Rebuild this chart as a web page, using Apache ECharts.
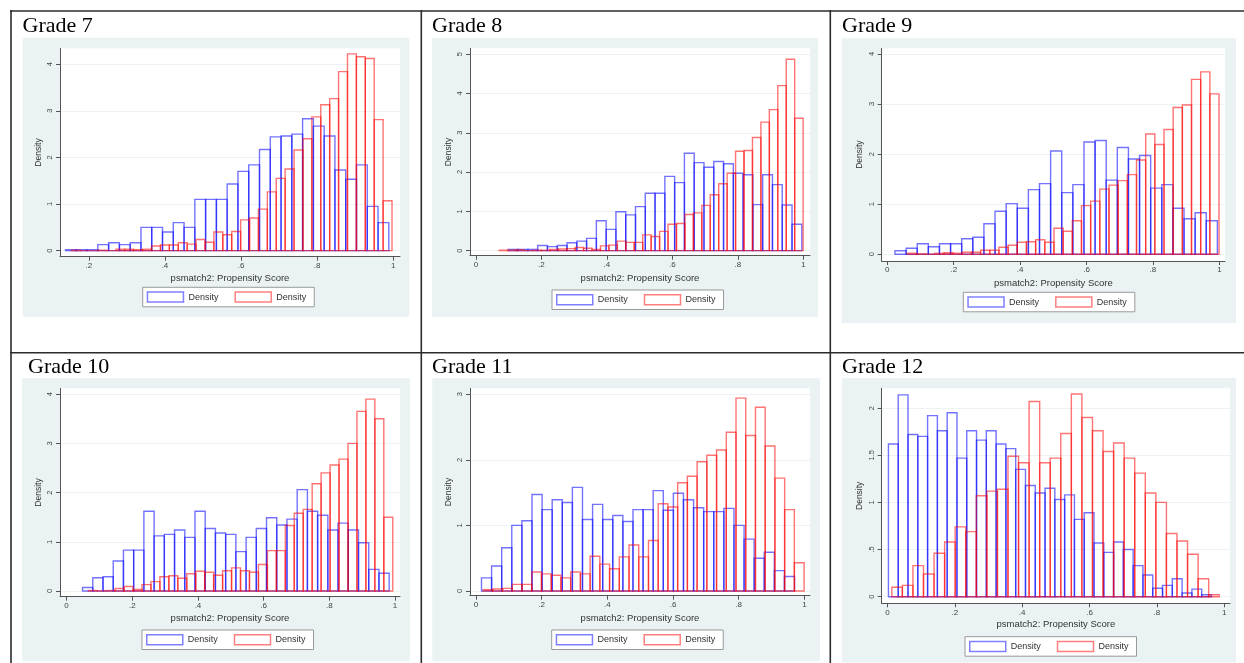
<!DOCTYPE html>
<html>
<head>
<meta charset="utf-8">
<script src="https://cdn.jsdelivr.net/npm/echarts@6/dist/echarts.min.js"></script>
<style>
html,body{margin:0;padding:0;background:#fff;}
#chart{width:1244px;height:663px;}
</style>
</head>
<body>
<div id="chart"></div>
<script>
// ---------------- DATA ----------------
const gradeTitles = ['Grade 7', 'Grade 8', 'Grade 9', 'Grade 10', 'Grade 11', 'Grade 12'];
const xAxisTitle = 'psmatch2: Propensity Score';
const yAxisTitle = 'Density';
const legendLabel = 'Density';
const xTickValues = [0, 0.2, 0.4, 0.6, 0.8, 1];

// Grade 7
const g7BlueRange = [0.1385, 0.9886];
const g7Blue = [0.02,0.02,0.02,0.13,0.17,0.13,0.17,0.50,0.50,0.40,0.60,0.50,1.10,1.10,1.10,1.43,1.70,1.84,2.17,2.44,2.46,2.50,2.83,2.67,2.46,1.73,1.53,1.84,0.95,0.60];
const g7RedRange = [0.154, 0.997];
const g7Red = [0.01,0,0,0.01,0,0.03,0.03,0.02,0.03,0.10,0.12,0.12,0.17,0.14,0.24,0.18,0.40,0.34,0.41,0.66,0.70,0.89,1.26,1.55,1.75,2.16,2.40,2.87,3.13,3.26,3.84,4.22,4.16,4.12,2.81,1.07];
const g7YTicks = [0, 1, 2, 3, 4];

// Grade 8
const g8BlueRange = [0.099, 0.995];
const g8Blue = [0.03,0.03,0.03,0.13,0.10,0.13,0.20,0.24,0.31,0.76,0.54,0.99,0.91,1.12,1.46,1.46,1.89,1.73,2.48,2.24,2.12,2.27,2.21,1.97,1.93,1.17,1.93,1.68,1.16,0.67];
const g8RedRange = [0.071, 0.999];
const g8Red = [0.01,0.01,0.02,0.00,0.01,0.01,0.03,0.04,0.05,0.08,0.06,0.03,0.12,0.14,0.24,0.21,0.21,0.40,0.36,0.49,0.67,0.69,0.92,0.96,1.15,1.42,1.70,1.97,2.53,2.55,2.88,3.27,3.59,4.20,4.87,3.37];
const g8YTicks = [0, 1, 2, 3, 4, 5];

// Grade 9
const g9BlueRange = [0.023, 0.994];
const g9Blue = [0.07,0.12,0.21,0.15,0.21,0.21,0.31,0.34,0.61,0.86,1.01,0.92,1.29,1.41,2.06,1.23,1.39,2.24,2.27,1.48,2.13,1.90,1.97,1.32,1.39,0.92,0.71,0.83,0.67];
const g9RedRange = [0.060, 0.999];
const g9Red = [0.02,0.01,0.00,0.02,0.03,0.02,0.04,0.04,0.08,0.08,0.14,0.18,0.24,0.25,0.29,0.24,0.52,0.46,0.67,0.97,1.06,1.30,1.38,1.47,1.59,1.88,2.40,2.19,2.49,2.93,2.98,3.49,3.64,3.20];
const g9YTicks = [0, 1, 2, 3, 4];

// Grade 10
const g10BlueRange = [0.0487, 0.982];
const g10Blue = [0.07,0.27,0.29,0.61,0.83,0.83,1.62,1.12,1.15,1.24,1.09,1.62,1.27,1.18,1.15,0.80,1.09,1.27,1.49,1.34,1.46,2.06,1.62,1.54,1.24,1.38,1.24,0.98,0.44,0.36];
const g10RedRange = [0.066, 0.993];
const g10Red = [0.01,0,0.01,0.05,0.09,0.03,0.13,0.19,0.29,0.31,0.26,0.35,0.40,0.38,0.32,0.41,0.47,0.41,0.38,0.54,0.82,0.82,1.33,1.58,1.66,2.18,2.40,2.56,2.68,3.00,3.65,3.90,3.50,1.50];
const g10YTicks = [0, 1, 2, 3, 4];

// Grade 11
const g11BlueRange = [0.017, 0.970];
const g11Blue = [0.20,0.38,0.66,1.00,1.07,1.47,1.24,1.39,1.35,1.58,1.09,1.32,1.09,1.15,1.06,1.24,1.24,1.53,1.23,1.49,1.39,1.27,1.21,1.21,1.26,1.00,0.79,0.50,0.59,0.31,0.22];
const g11RedRange = [0.022, 0.999];
const g11Red = [0.02,0.03,0.04,0.10,0.10,0.29,0.26,0.24,0.20,0.29,0.26,0.53,0.41,0.34,0.52,0.70,0.52,0.77,1.33,1.28,1.65,1.75,1.97,2.07,2.15,2.42,2.94,2.37,2.80,2.21,1.72,1.24,0.43];
const g11YTicks = [0, 1, 2, 3];

// Grade 12
const g12BlueRange = [0.003, 0.962];
const g12Blue = [1.62,2.14,1.72,1.70,1.92,1.76,1.95,1.47,1.76,1.66,1.76,1.62,1.57,1.35,1.18,1.10,1.15,1.03,1.08,0.82,0.89,0.57,0.47,0.58,0.50,0.33,0.23,0.09,0.12,0.19,0.04,0.08,0.02];
const g12RedRange = [0.013, 0.985];
const g12Red = [0.10,0.12,0.33,0.24,0.46,0.58,0.74,0.69,1.07,1.12,1.14,1.49,1.42,2.07,1.42,1.47,1.73,2.15,1.90,1.76,1.54,1.63,1.47,1.31,1.10,1.00,0.67,0.59,0.45,0.19,0.02];
const g12YTicks = [0, 0.5, 1, 1.5, 2];

// ---------------- LAYOUT (positions / styles) ----------------
const panels = [
  {blue:g7Blue, blueRange:g7BlueRange, red:g7Red, redRange:g7RedRange, yTicks:g7YTicks,
   bg:[22.7,37.7,386.6,279], grid:[60,48.3,400,256.7], x:[0.124,1.018], y:[-0.13,4.34],
   title:[22.5,15], legend:[142.7,287.3], xGap:17, yGap:17},
  {blue:g8Blue, blueRange:g8BlueRange, red:g8Red, redRange:g8RedRange, yTicks:g8YTicks,
   bg:[432,38,386,279], grid:[470,48.3,810,255.7], x:[-0.018,1.02], y:[-0.13,5.15],
   title:[432,15], legend:[552,290], xGap:18, yGap:16.5},
  {blue:g9Blue, blueRange:g9BlueRange, red:g9Red, redRange:g9RedRange, yTicks:g9YTicks,
   bg:[841.7,38.3,394.3,284.7], grid:[881.7,48.3,1225,261], x:[-0.017,1.017], y:[-0.134,4.11],
   title:[842,15], legend:[963.3,292.3], xGap:17, yGap:18},
  {blue:g10Blue, blueRange:g10BlueRange, red:g10Red, redRange:g10RedRange, yTicks:g10YTicks,
   bg:[22,378.3,388,282.7], grid:[60,388.3,400,596.7], x:[-0.02,1.015], y:[-0.116,4.12],
   title:[28,356], legend:[142,630], xGap:17, yGap:17},
  {blue:g11Blue, blueRange:g11BlueRange, red:g11Red, redRange:g11RedRange, yTicks:g11YTicks,
   bg:[432.3,378.3,387.7,282.7], grid:[470,388.3,810,595.7], x:[-0.018,1.017], y:[-0.072,3.09],
   title:[432,356], legend:[551.7,630], xGap:18, yGap:16.5},
  {blue:g12Blue, blueRange:g12BlueRange, red:g12Red, redRange:g12RedRange, yTicks:g12YTicks,
   bg:[841.7,378,394.3,284.5], grid:[881.7,388.3,1230,603.3], x:[-0.017,1.017], y:[-0.07,2.21],
   title:[842,356], legend:[965,636.7], xGap:16.5, yGap:18}
];

const BLUE = 'rgba(0,0,255,0.55)';
const RED = 'rgba(255,0,0,0.55)';
const SANS = '"Liberation Sans", Arial, Helvetica, sans-serif';
const SERIF = '"Liberation Serif", "Times New Roman", serif';

function fmt(v) {
  if (v === 0) return '0';
  let s = String(+v.toFixed(3));
  if (s.startsWith('0.')) s = s.slice(1);
  return s;
}

function binsOf(heights, range) {
  const w = (range[1] - range[0]) / heights.length;
  return heights.map((h, i) => [range[0] + i * w, range[0] + (i + 1) * w, h]);
}

function histRender(color) {
  return function (params, api) {
    const p0 = api.coord([api.value(0), 0]);
    const p1 = api.coord([api.value(1), api.value(2)]);
    return {
      type: 'rect',
      shape: {x: p0[0], y: p1[1], width: p1[0] - p0[0], height: p0[1] - p1[1]},
      style: {fill: 'none', stroke: color, lineWidth: 1.4}
    };
  };
}

const grids = [], xAxes = [], yAxes = [], series = [], legends = [], titles = [], graphics = [];

panels.forEach((p, i) => {
  graphics.push({type:'rect', z:-10, shape:{x:p.bg[0], y:p.bg[1], width:p.bg[2], height:p.bg[3]}, style:{fill:'#EAF2F3'}});
  grids.push({left:p.grid[0], top:p.grid[1], width:p.grid[2]-p.grid[0], height:p.grid[3]-p.grid[1],
    show:true, backgroundColor:'#fff', borderWidth:0, containLabel:false});
  const xt = xTickValues.filter(v => v >= p.x[0] && v <= p.x[1]);
  xAxes.push({type:'value', gridIndex:i, min:p.x[0], max:p.x[1],
    name:xAxisTitle, nameLocation:'middle', nameGap:p.xGap,
    nameTextStyle:{fontFamily:SANS, fontSize:9.5, color:'#333'},
    axisLine:{show:true, onZero:false, lineStyle:{color:'#555', width:1}},
    axisTick:{show:true, customValues:xt, length:4, lineStyle:{color:'#555'}},
    axisLabel:{show:true, customValues:xt, formatter:fmt, fontFamily:SANS, fontSize:8, color:'#444', margin:5},
    splitLine:{show:false}});
  yAxes.push({type:'value', gridIndex:i, min:p.y[0], max:p.y[1],
    name:yAxisTitle, nameLocation:'middle', nameGap:p.yGap,
    nameTextStyle:{fontFamily:SANS, fontSize:8.5, color:'#333'},
    axisLine:{show:true, onZero:false, lineStyle:{color:'#555', width:1}},
    axisTick:{show:true, customValues:p.yTicks, length:4, lineStyle:{color:'#555'}},
    axisLabel:{show:true, customValues:p.yTicks, formatter:fmt, rotate:90, fontFamily:SANS, fontSize:7.5, color:'#444', margin:6},
    splitLine:{show:true, lineStyle:{color:'#EDF3F4', width:1}}});
  const bName = legendLabel + ' (' + gradeTitles[i] + ', blue)';
  const rName = legendLabel + ' (' + gradeTitles[i] + ', red)';
  series.push({type:'custom', name:bName, xAxisIndex:i, yAxisIndex:i, data:binsOf(p.blue, p.blueRange),
    encode:{x:[0,1], y:2}, renderItem:histRender(BLUE), itemStyle:{color:BLUE}, silent:true, animation:false});
  series.push({type:'custom', name:rName, xAxisIndex:i, yAxisIndex:i, data:binsOf(p.red, p.redRange),
    encode:{x:[0,1], y:2}, renderItem:histRender(RED), itemStyle:{color:RED}, silent:true, animation:false});
  legends.push({left:p.legend[0], top:p.legend[1], orient:'horizontal', selectedMode:false,
    data:[
      {name:bName, icon:'rect', itemStyle:{color:'#fff', borderColor:'rgba(0,0,255,0.5)', borderWidth:1.5}},
      {name:rName, icon:'rect', itemStyle:{color:'#fff', borderColor:'rgba(255,0,0,0.5)', borderWidth:1.5}}
    ],
    formatter:() => legendLabel,
    itemWidth:36, itemHeight:10, itemGap:16, padding:[4,8,4,4],
    borderColor:'#999', borderWidth:1, backgroundColor:'#fff',
    textStyle:{fontFamily:SANS, fontSize:9, color:'#333'}});
  titles.push({text:gradeTitles[i], left:p.title[0], top:p.title[1], padding:0,
    textStyle:{fontFamily:SERIF, fontSize:22, fontWeight:'normal', color:'#000'}});
});

// table rules
const lineStyle = {stroke:'#2b2b2b', lineWidth:1.6};
[[10,11,1244,11],[11,10,11,663],[421.3,10,421.3,663],[830.3,10,830.3,663],[10,352.7,1244,352.7]].forEach(l => {
  graphics.push({type:'line', z:10, shape:{x1:l[0], y1:l[1], x2:l[2], y2:l[3]}, style:lineStyle});
});

const chart = echarts.init(document.getElementById('chart'), null, {renderer:'canvas'});
chart.setOption({
  animation:false,
  backgroundColor:'#fff',
  title:titles,
  grid:grids,
  xAxis:xAxes,
  yAxis:yAxes,
  legend:legends,
  series:series,
  graphic:{elements:graphics}
});
</script>
</body>
</html>
